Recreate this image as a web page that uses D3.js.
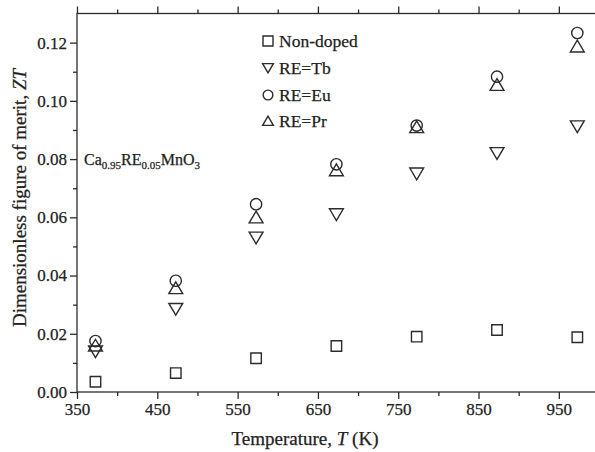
<!DOCTYPE html>
<html>
<head>
<meta charset="utf-8">
<script src="https://cdn.jsdelivr.net/npm/d3@7"></script>
<style>
  body { margin: 0; background: #fff; }
  svg text { font-family: "Liberation Serif", "DejaVu Serif", serif; fill: #222; stroke: #222; stroke-width: 0.25px; }
</style>
</head>
<body>
<svg id="chart" width="595" height="452"></svg>
<script>
// temperatures (K)
var temps = [373, 473, 573, 673, 773, 873, 973]
var nonDoped = [0.0035, 0.0065, 0.0116, 0.0158, 0.0190, 0.0213, 0.0188]
var reTb = [0.0139, 0.0285, 0.0530, 0.0610, 0.0750, 0.0820, 0.0912]
var reEu = [0.0175, 0.0382, 0.0645, 0.0782, 0.0915, 0.1083, 0.1233]
var rePr = [0.0160, 0.0357, 0.0600, 0.0762, 0.0910, 0.1055, 0.1187]
var xTicks = [350, 450, 550, 650, 750, 850, 950]
var yTicks = [0, 0.02, 0.04, 0.06, 0.08, 0.10, 0.12]

var svg = d3.select("#chart")
var mLeft = 77, mRight = 599, mTop = 13.5, mBottom = 392
var x = d3.scaleLinear().domain([350, 1000]).range([mLeft, mRight])
var y = d3.scaleLinear().domain([0, 0.13]).range([mBottom, mTop])
var ink = "#2b2b2b"

// frame
svg.append("rect")
  .attr("x", mLeft).attr("y", mTop)
  .attr("width", mRight - mLeft).attr("height", mBottom - mTop)
  .attr("fill", "none").attr("stroke", ink).attr("stroke-width", 1.3)

var xMinor = d3.range(400, 1000, 100)
var yMinor = [0.01, 0.03, 0.05, 0.07, 0.09, 0.11]

// bottom axis
var gx = svg.append("g").attr("transform", "translate(0," + mBottom + ")")
  .call(d3.axisBottom(x).tickValues(xTicks).tickSize(7).tickPadding(4).tickFormat(d3.format("d")))
gx.append("g").call(d3.axisBottom(x).tickValues(xMinor).tickSize(4).tickFormat(""))
// top axis (ticks only)
var gt = svg.append("g").attr("transform", "translate(0," + mTop + ")")
  .call(d3.axisTop(x).tickValues(xTicks).tickSize(7).tickFormat(""))
gt.append("g").call(d3.axisTop(x).tickValues(xMinor).tickSize(4).tickFormat(""))
// left axis
var gy = svg.append("g").attr("transform", "translate(" + mLeft + ",0)")
  .call(d3.axisLeft(y).tickValues(yTicks).tickSize(7).tickPadding(3).tickFormat(d3.format(".2f")))
gy.append("g").call(d3.axisLeft(y).tickValues(yMinor).tickSize(4).tickFormat(""))

svg.selectAll(".domain").remove()
svg.selectAll(".tick line").attr("stroke", ink).attr("stroke-width", 1.3)
svg.selectAll(".tick text").style("font-family", "Liberation Serif").style("font-size", "17px").attr("fill", ink)

// axis titles
var xt = svg.append("text").attr("x", 305).attr("y", 445).attr("text-anchor", "middle").style("font-size", "19px")
xt.append("tspan").text("Temperature, ")
xt.append("tspan").style("font-style", "italic").text("T")
xt.append("tspan").text(" (K)")

var yt = svg.append("text").attr("transform", "translate(26,198) rotate(-90)").attr("text-anchor", "middle").style("font-size", "19px")
yt.append("tspan").text("Dimensionless figure of merit, ")
yt.append("tspan").style("font-style", "italic").text("ZT")

// compound label
var f = svg.append("text").attr("x", 84).attr("y", 165).style("font-size", "16px")
f.append("tspan").text("Ca")
f.append("tspan").attr("dy", 4).style("font-size", "11px").text("0.95")
f.append("tspan").attr("dy", -4).text("RE")
f.append("tspan").attr("dy", 4).style("font-size", "11px").text("0.05")
f.append("tspan").attr("dy", -4).text("MnO")
f.append("tspan").attr("dy", 4).style("font-size", "11px").text("3")

// series
var triDown = {
  draw: function(ctx, size) {
    var s = Math.sqrt(size)
    ctx.moveTo(-s * 0.62, -s * 0.5)
    ctx.lineTo(s * 0.62, -s * 0.5)
    ctx.lineTo(0, s * 0.55)
    ctx.closePath()
  }
}
var triUp = {
  draw: function(ctx, size) {
    var s = Math.sqrt(size)
    ctx.moveTo(-s * 0.62, s * 0.5)
    ctx.lineTo(s * 0.62, s * 0.5)
    ctx.lineTo(0, -s * 0.55)
    ctx.closePath()
  }
}
var series = [
  { name: "Non-doped", vals: nonDoped, sym: d3.symbolSquare, size: 110 },
  { name: "RE=Tb", vals: reTb, sym: triDown, size: 125 },
  { name: "RE=Eu", vals: reEu, sym: d3.symbolCircle, size: 100 },
  { name: "RE=Pr", vals: rePr, sym: triUp, size: 125 }
]

series.forEach(function(s) {
  svg.append("g").selectAll("path")
    .data(temps.map(function(t, i) { return [t, s.vals[i]] }))
    .join("path")
    .attr("transform", function(d) { return "translate(" + x(d[0]) + "," + y(d[1]) + ")" })
    .attr("d", d3.symbol().type(s.sym).size(s.size))
    .attr("fill", "none").attr("stroke", ink).attr("stroke-width", 1.4)
})

// legend
var legY = [41, 68, 95, 121]
series.forEach(function(s, i) {
  svg.append("path")
    .attr("transform", "translate(268," + legY[i] + ")")
    .attr("d", d3.symbol().type(s.sym).size(i == 0 ? 100 : 75))
    .attr("fill", "none").attr("stroke", ink).attr("stroke-width", 1.4)
  svg.append("text").attr("x", 279).attr("y", legY[i] + 6).style("font-size", "17.5px").text(s.name)
})
</script>
</body>
</html>
